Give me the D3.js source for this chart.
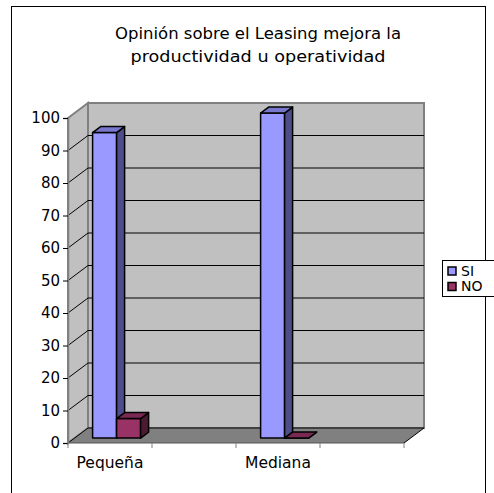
<!DOCTYPE html>
<html>
<head>
<meta charset="utf-8">
<script src="https://cdn.jsdelivr.net/npm/d3@7"></script>
<style>
  html, body { margin: 0; padding: 0; background: #ffffff; }
  svg { display: block; }
  text { font-family: "DejaVu Sans", sans-serif; fill: #000; }
</style>
</head>
<body>
<svg id="chart" width="494" height="493"></svg>
<script>
// Chart data
const titleLines = ["Opinión sobre el Leasing mejora la", "productividad u operatividad"];
const categories = ["Pequeña", "", "Mediana", ""];
const seriesNames = ["SI", "NO"];
const siValues = [94, null, 100, null];
const noValues = [6, null, 0, null];
const yTicks = [0, 10, 20, 30, 40, 50, 60, 70, 80, 90, 100];

const seriesColors = {
  SI: { front: "#9999ff", top: "#7777cc", side: "#4d4d8c" },
  NO: { front: "#993366", top: "#7a2952", side: "#4d1a33" }
};

const svg = d3.select("#chart");

// Front plane of the 3D box (category slots keyed by index)
const x = d3.scaleBand().domain(d3.range(categories.length)).range([68, 404]).paddingInner(0).paddingOuter(0);
const y = d3.scaleLinear().domain([0, 100]).range([443, 118]);
const xs = d3.scaleBand().domain(seriesNames).range([0, x.bandwidth()]).paddingInner(0).paddingOuter(0.75);

// Depth projection: full depth shifts by (DX, DY)
const DX = 20, DY = -15;
const P = (px, py, d) => [px + DX * d, py + DY * d];
const poly = pts => "M" + pts.map(p => p.join(",")).join("L") + "Z";

// Outer chart border
svg.append("rect")
  .attr("x", 11.5).attr("y", 6.5).attr("width", 474).attr("height", 500)
  .attr("fill", "none").attr("stroke", "#000").attr("stroke-width", 1);

// Title
const titleWidths = [286, 255];
svg.append("g").selectAll("text").data(titleLines).join("text")
  .attr("x", 258).attr("y", (d, i) => 39 + i * 23)
  .attr("text-anchor", "middle")
  .attr("textLength", (d, i) => titleWidths[i])
  .attr("lengthAdjust", "spacingAndGlyphs")
  .style("font-size", "15px")
  .text(d => d);

const x0 = x.range()[0], x1 = x.range()[1];
const y0 = y(0), yTop = y(100);

// Walls and floor
const walls = svg.append("g");
// back wall
walls.append("path")
  .attr("d", poly([P(x0, yTop, 1), P(x1, yTop, 1), P(x1, y0, 1), P(x0, y0, 1)]))
  .attr("fill", "#c0c0c0").attr("stroke", "#808080").attr("stroke-width", 2);
// left side wall
walls.append("path")
  .attr("d", poly([P(x0, yTop, 0), P(x0, yTop, 1), P(x0, y0, 1), P(x0, y0, 0)]))
  .attr("fill", "#c0c0c0").attr("stroke", "#808080").attr("stroke-width", 2);
// floor
walls.append("path")
  .attr("d", poly([P(x0, y0, 0), P(x0, y0, 1), P(x1, y0, 1), P(x1, y0, 0)]))
  .attr("fill", "#808080").attr("stroke", "none");

// Gridlines on back wall and left wall
const grid = svg.append("g").attr("stroke", "#000").attr("stroke-width", 1).attr("fill", "none");
const inner = yTicks.filter(v => v > 0 && v < 100);
grid.selectAll("path.back").data(inner).join("path")
  .attr("class", "back")
  .attr("d", v => "M" + P(x0, y(v), 1).join(",") + "L" + P(x1, y(v), 1).join(","));
grid.selectAll("path.side").data(inner).join("path")
  .attr("class", "side")
  .attr("d", v => "M" + P(x0, y(v), 0).join(",") + "L" + P(x0, y(v), 1).join(","));
// floor edges
grid.append("path").attr("d", "M" + P(x0, y0, 1).join(",") + "L" + P(x1, y0, 1).join(","));
grid.append("path").attr("d", "M" + P(x0, y0, 0).join(",") + "L" + P(x0, y0, 1).join(","));
grid.append("path").attr("d", "M" + P(x1, y0, 0).join(",") + "L" + P(x1, y0, 1).join(","));
grid.append("path").attr("d", "M" + P(x0, y0, 0).join(",") + "L" + P(x1, y0, 0).join(","))
  .attr("stroke", "#555");

// Y axis
const yAxis = d3.axisLeft(y).tickValues(yTicks).tickSize(5).tickPadding(3);
const yg = svg.append("g").attr("transform", `translate(${x0},0)`).call(yAxis);
yg.select(".domain").attr("stroke", "#808080").attr("stroke-width", 1.5);
yg.selectAll(".tick line").attr("stroke", "#000");
yg.selectAll(".tick text").style("font-size", "15px").style("font-family", '"DejaVu Sans", sans-serif');

// X axis
const xAxis = d3.axisBottom(x).tickSize(0).tickPadding(0).tickFormat(i => categories[i]);
const xg = svg.append("g").attr("transform", `translate(0,${y0})`).call(xAxis);
xg.select(".domain").remove();
xg.selectAll(".tick text").attr("dy", null).attr("y", 25)
  .style("font-size", "15.5px").style("font-family", '"DejaVu Sans", sans-serif');
// category boundary ticks
const bounds = x.domain().map(i => x(i)).concat([x1]);
xg.selectAll("line.bound").data(bounds).join("line")
  .attr("class", "bound")
  .attr("x1", d => d).attr("x2", d => d).attr("y1", 0).attr("y2", 5)
  .attr("stroke", "#808080").attr("stroke-width", 1);

// Bars (3D columns)
const DF = 0.33, DB = 0.73;
const bars = [];
x.domain().forEach(i => {
  [["SI", siValues[i]], ["NO", noValues[i]]].forEach(([s, v]) => {
    if (v === null) return;
    bars.push({ i, s, v });
  });
});
const barG = svg.append("g").attr("stroke", "#000").attr("stroke-width", 1.5).attr("stroke-linejoin", "round");
bars.forEach(b => {
  const bx0 = x(b.i) + xs(b.s), bx1 = bx0 + xs.bandwidth();
  const by0 = y(0), by1 = y(b.v);
  const col = seriesColors[b.s];
  const g = barG.append("g");
  // front face
  g.append("path").attr("fill", col.front)
    .attr("d", poly([P(bx0, by1, DF), P(bx1, by1, DF), P(bx1, by0, DF), P(bx0, by0, DF)]));
  // right side face
  g.append("path").attr("fill", col.side)
    .attr("d", poly([P(bx1, by1, DF), P(bx1, by1, DB), P(bx1, by0, DB), P(bx1, by0, DF)]));
  // top face
  g.append("path").attr("fill", col.top)
    .attr("d", poly([P(bx0, by1, DF), P(bx0, by1, DB), P(bx1, by1, DB), P(bx1, by1, DF)]));
});

// Legend
const lg = svg.append("g");
lg.append("rect").attr("x", 442.5).attr("y", 260.5).attr("width", 80).attr("height", 36)
  .attr("fill", "#fff").attr("stroke", "#000").attr("stroke-width", 1);
const items = lg.selectAll("g.item").data(seriesNames).join("g")
  .attr("class", "item")
  .attr("transform", (d, i) => `translate(448,${271 + i * 15.5})`);
items.append("rect").attr("x", 0).attr("y", -4).attr("width", 8).attr("height", 8)
  .attr("fill", d => seriesColors[d].front).attr("stroke", "#000").attr("stroke-width", 1.5);
items.append("text").attr("x", 13).attr("y", 0).attr("dy", "0.35em")
  .style("font-size", "14px").text(d => d);
</script>
</body>
</html>
